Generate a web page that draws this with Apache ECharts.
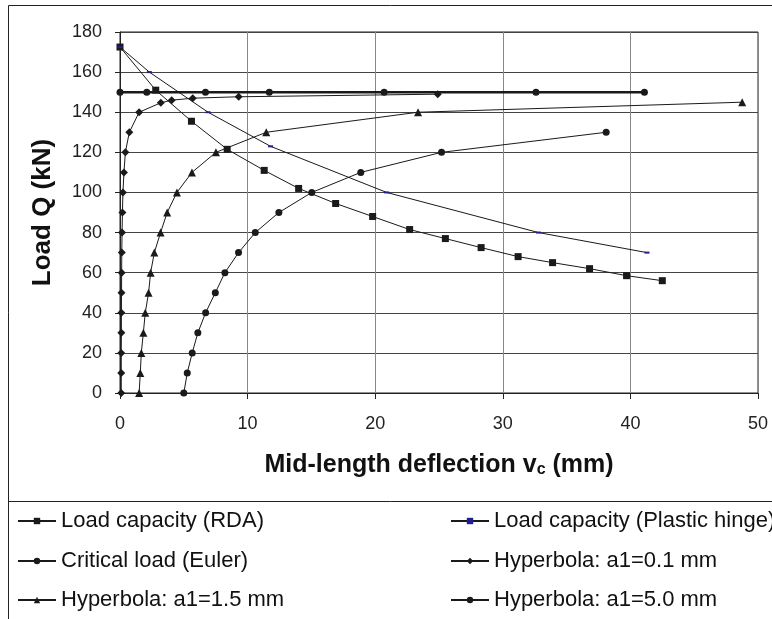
<!DOCTYPE html>
<html>
<head>
<meta charset="utf-8">
<script src="https://cdn.jsdelivr.net/npm/echarts@6/dist/echarts.min.js"></script>
<style>html,body{margin:0;padding:0;background:#fff;}#c{width:772px;height:619px;}</style>
</head>
<body>
<div id="c"></div>
<script>
var xTicks = [0, 10, 20, 30, 40, 50];
var yTicks = [0, 20, 40, 60, 80, 100, 120, 140, 160, 180];

var rdaX = [0, 2.8, 5.6, 8.4, 11.3, 14.0, 16.9, 19.8, 22.7, 25.5, 28.3, 31.2, 33.9, 36.8, 39.7, 42.5];
var rdaY = [172.5, 151, 135.5, 121.5, 111, 102, 94.5, 88, 81.5, 77, 72.5, 68, 65, 62, 58.5, 56];

var plasticX = [0, 2.3, 6.9, 11.8, 20.9, 32.8, 41.3];
var plasticY = [172.5, 160, 140, 123, 100, 80, 70];

var eulerX = [0, 2.1, 6.7, 11.7, 20.7, 32.6, 41.1];
var eulerY = [150, 150, 150, 150, 150, 150, 150];

var hyp01X = [0.1, 0.1, 0.1, 0.11, 0.11, 0.12, 0.13, 0.14, 0.16, 0.19, 0.23, 0.31, 0.42, 0.73, 1.5, 3.2, 4.05, 5.7, 9.3, 24.9];
var hyp01Y = [0, 10, 20, 30, 40, 50, 60, 70, 80, 90, 100, 110, 120, 130, 140, 144.7, 146, 147, 147.7, 149];

var hyp15X = [1.5, 1.59, 1.67, 1.83, 1.98, 2.24, 2.4, 2.69, 3.18, 3.7, 4.46, 5.64, 7.52, 11.46, 23.36, 48.76];
var hyp15Y = [0, 10, 20, 30, 40, 50, 60, 70, 80, 90, 100, 110, 120, 130, 140, 145];

var hyp50X = [5.0, 5.27, 5.66, 6.1, 6.71, 7.47, 8.22, 9.29, 10.6, 12.45, 15.03, 18.87, 25.2, 38.1];
var hyp50Y = [0, 10, 20, 30, 40, 50, 60, 70, 80, 90, 100, 110, 120, 130];

var names = ['Load capacity (RDA)', 'Load capacity (Plastic hinge)', 'Critical load (Euler)',
             'Hyperbola: a1=0.1 mm', 'Hyperbola: a1=1.5 mm', 'Hyperbola: a1=5.0 mm'];

function zip(xs, ys) { return xs.map(function (x, i) { return [x, ys[i]]; }); }

var FONT = '"Liberation Sans", Arial, sans-serif';
var INK = '#1a1a1a';

function lineSeries(name, data, symbol, size, extra) {
  var s = {
    name: name, type: 'line', data: data, symbol: symbol, symbolSize: size,
    showSymbol: true, animation: false,
    lineStyle: { color: INK, width: 1 },
    itemStyle: { color: INK, borderWidth: 0 },
    emphasis: { disabled: true }
  };
  for (var k in extra) s[k] = extra[k];
  return s;
}

var legendBase = {
  padding: 0, itemWidth: 38, itemHeight: 8, itemGap: 0, selectedMode: false,
  textStyle: { fontSize: 22, color: '#111', fontFamily: FONT }
};
function leg(name, left, top) {
  var o = {}; for (var k in legendBase) o[k] = legendBase[k];
  o.data = [name]; o.left = left; o.top = top; return o;
}

var chart = echarts.init(document.getElementById('c'), null, { renderer: 'canvas' });
chart.setOption({
  backgroundColor: '#fff',
  animation: false,
  grid: { left: 120, top: 32, width: 638, height: 361, show: true, borderColor: '#222', borderWidth: 1 },
  xAxis: {
    type: 'value', min: xTicks[0], max: xTicks[xTicks.length - 1], interval: 10,
    name: '{a|Mid-length deflection v}{b|c}{a| (mm)}',
    nameLocation: 'middle', nameGap: 60,
    nameTextStyle: { rich: {
      a: { fontSize: 25, fontWeight: 'bold', color: '#111', fontFamily: FONT },
      b: { fontSize: 16, fontWeight: 'bold', color: '#111', fontFamily: FONT, verticalAlign: 'bottom' }
    } },
    axisLine: { lineStyle: { color: '#222', width: 1 } },
    axisTick: { show: true, inside: false, length: 6, lineStyle: { color: '#222' } },
    axisLabel: { fontSize: 18, color: '#222', fontFamily: FONT, margin: 22 },
    splitLine: { show: true, lineStyle: { color: '#888', width: 1 } }
  },
  yAxis: {
    type: 'value', min: yTicks[0], max: yTicks[yTicks.length - 1], interval: 20,
    name: 'Load Q (kN)', nameLocation: 'middle', nameGap: 64,
    nameTextStyle: { fontSize: 26, fontWeight: 'bold', color: '#111', fontFamily: FONT },
    axisLine: { show: true, lineStyle: { color: '#222', width: 1 } },
    axisTick: { show: true, inside: false, length: 5, lineStyle: { color: '#222' } },
    axisLabel: { fontSize: 18, color: '#222', fontFamily: FONT, margin: 18 },
    splitLine: { show: true, lineStyle: { color: '#444', width: 1 } }
  },
  legend: [
    leg(names[0], 17, 510), leg(names[1], 450, 510),
    leg(names[2], 17, 550), leg(names[3], 450, 550),
    leg(names[4], 17, 589), leg(names[5], 450, 589)
  ],
  graphic: [
    { type: 'rect', shape: { x: 8.5, y: 5.5, width: 900, height: 800 }, style: { fill: null, stroke: '#222', lineWidth: 1 }, silent: true, z: -10 },
    { type: 'rect', shape: { x: 8.5, y: 501.5, width: 900, height: 300 }, style: { fill: null, stroke: '#222', lineWidth: 1 }, silent: true, z: -10 }
  ],
  series: [
    lineSeries(names[2], zip(eulerX, eulerY), 'circle', 7, { lineStyle: { color: INK, width: 2.5 } }),
    lineSeries(names[3], zip(hyp01X, hyp01Y), 'diamond', 8, {}),
    lineSeries(names[4], zip(hyp15X, hyp15Y), 'triangle', 8, {}),
    lineSeries(names[5], zip(hyp50X, hyp50Y), 'circle', 7, {}),
    lineSeries(names[0], zip(rdaX, rdaY), 'rect', 7, {}),
    lineSeries(names[1], zip(plasticX, plasticY), 'rect', [5, 2], { itemStyle: { color: '#1f1f8f' } })
  ]
});
</script>
</body>
</html>
